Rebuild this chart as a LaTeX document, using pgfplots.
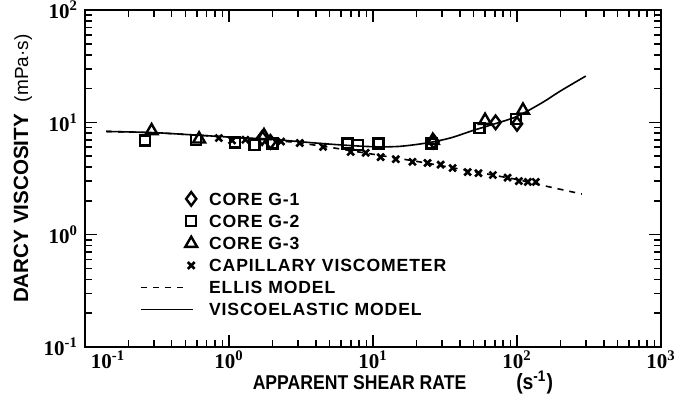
\documentclass[border=0pt]{standalone}
\usepackage{fontspec}
\setmainfont{Liberation Sans}
\newfontfamily\numfont{Liberation Serif}
\newfontfamily\legfont{Liberation Sans}[LetterSpace=5]
\newfontfamily\labfont{Liberation Sans}[FakeStretch=0.88]
\usepackage{pgfplots}
\pgfplotsset{compat=1.18}
\pgfplotsset{
  markleg/.style={legend image code/.code={\draw[##1] plot coordinates {(25pt,0pt)};}},
  lineleg/.style={legend image code/.code={\draw[##1] (0pt,0pt) -- (#1,0pt);}},
}
\begin{document}
\begin{tikzpicture}
\begin{axis}[
  xmode=log, ymode=log,
  xmin=0.1, xmax=1000, ymin=0.1, ymax=100,
  scale only axis, width=288pt, height=168.5pt,
  axis line style={line width=1.4pt},
  tick style={line width=0.8pt, black},
  tick align=inside,
  major tick length=6pt, minor tick length=3.5pt,
  xtick={0.1,1,10,100,1000},
  xticklabels={{\hspace{23pt}10\textsuperscript{-1}},{10\textsuperscript{0}},{10\textsuperscript{1}},{10\textsuperscript{2}},{10\textsuperscript{3}}},
  ytick={0.1,1,10,100},
  yticklabels={{10\textsuperscript{-1}},{10\textsuperscript{0}},{10\textsuperscript{1}},{10\textsuperscript{2}}},
  tick label style={font=\numfont\bfseries\fontsize{10.5}{12}\selectfont},
  xticklabel style={yshift=1.5pt},
  xlabel={APPARENT SHEAR RATE\hspace{25pt}{\fontsize{11}{12}\selectfont(s\textsuperscript{-1})}},
  ylabel={DARCY VISCOSITY\hspace{6pt}{\mdseries\fontsize{9.5}{11}\selectfont(mPa·s)}},
  x label style={font=\labfont\bfseries\fontsize{10}{12}\selectfont, at={([yshift=-17.5pt]axis description cs:0.279,0)}, anchor=west},
  y label style={font=\bfseries\fontsize{10.3}{12}\selectfont, at={([xshift=-31pt]axis description cs:0,0.11)}, anchor=west},
  legend style={draw=none, fill=none, at={(axis description cs:0.0955,0.461)}, anchor=north west,
    font=\legfont\bfseries\fontsize{8.8}{10}\selectfont, row sep=4.5pt, inner sep=0pt,
    nodes={inner sep=0pt, text height=6.5pt, text depth=0pt},
    /tikz/every odd column/.append style={column sep=6pt}},
  legend cell align=left,
]
% CORE G-1
\addplot[only marks, mark=diamond, mark size=3.4pt, line width=1.2pt, markleg]
  coordinates {(1.70,7.25) (1.94,6.7) (26.4,6.75) (71,10.0) (100,9.7)};
\addlegendentry{CORE G-1}
% CORE G-2
\addplot[only marks, mark=square, mark size=2.5pt, line width=1.2pt, markleg]
  coordinates {(0.26,6.9) (0.59,6.95) (1.1,6.6) (1.5,6.3) (2.0,6.5) (6.65,6.5) (7.9,6.3) (10.9,6.5) (25.5,6.5) (55,8.9) (98,10.7)};
\addlegendentry{CORE G-2}
% CORE G-3
\addplot[only marks, mark=triangle, mark size=3.4pt, line width=1.2pt, markleg]
  coordinates {(0.29,8.4) (0.62,7.1) (1.75,7.6) (26,6.9) (60,10.4) (110,12.8)};
\addlegendentry{CORE G-3}
% Capillary viscometer
\addplot[only marks, mark=x, mark size=2.4pt, line width=1.3pt, markleg]
  coordinates {(0.85,7.25) (1.05,6.9) (1.3,7.0) (2.3,6.75) (3.1,6.55) (4.5,6.05) (7.0,5.45) (8.9,5.35) (11.3,4.9) (14.4,4.7) (18.8,4.45) (23.9,4.35) (29.5,4.2) (35.7,3.92) (45.4,3.61) (54,3.53) (68,3.40) (86,3.22) (103,3.0) (119,2.95) (135,2.95)};
\addlegendentry{CAPILLARY VISCOMETER}
% Ellis model
\addplot[black, line width=0.8pt, dash pattern=on 3pt off 3pt, no marks, lineleg=22.5pt]
  coordinates {(0.14,8.3) (0.3,8.1) (0.5,7.8) (1,7.4) (2,6.95) (3,6.6) (5,6.0) (10,5.2) (20,4.5) (50,3.65) (100,3.1) (164,2.68) (282,2.3)};
\addlegendentry{ELLIS MODEL}
% Viscoelastic model
\addplot[black, line width=0.8pt, no marks, smooth, lineleg=26pt]
  coordinates {(0.14,8.3) (0.3,8.1) (0.5,7.8) (1,7.4) (2,7.05) (3,6.75) (5,6.4) (8,6.15) (11,6.05) (15,6.1) (20,6.35) (26,6.7) (35,7.3) (50,8.5) (70,9.7) (100,11.3) (150,15.0) (200,19.0) (300,25.8)};
\addlegendentry{VISCOELASTIC MODEL}
\end{axis}
\pgfresetboundingbox
\useasboundingbox (-42.5pt,-28.5pt) rectangle (300pt,173.5pt);
\end{tikzpicture}
\end{document}
